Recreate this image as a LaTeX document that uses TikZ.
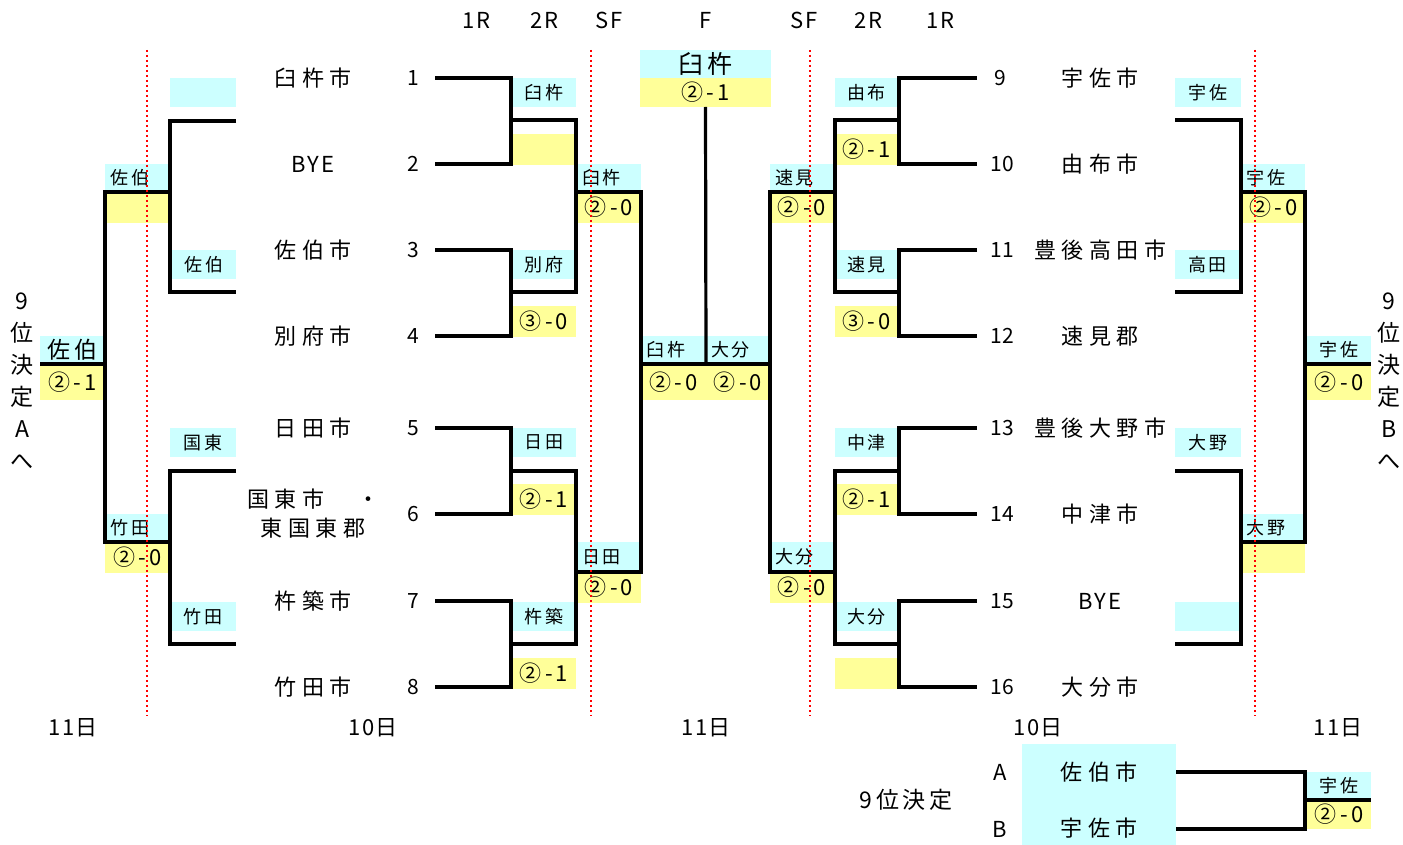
\documentclass[tikz,border=0pt]{standalone}
\usepackage{fontspec}
\setmainfont{Noto Sans CJK JP}
\newfontfamily\jpsp[LetterSpace=25]{Noto Sans CJK JP}
\newfontfamily\jpsm[LetterSpace=15]{Noto Sans CJK JP}
\newfontfamily\jpxs[LetterSpace=8]{Noto Sans CJK JP}
\definecolor{cyanc}{HTML}{CCFFFF}
\definecolor{yell}{HTML}{FFFF99}
\newcommand\mybox[7]{\node[#2, minimum width={(#5)-(#3)}, minimum height={(#6)-(#4)}] (#1) at ({((#3)+(#5))/2},{((#4)+(#6))/2}) {#7};}
\begin{document}
\begin{tikzpicture}[x=1pt,y=-1pt,
 bx/.style={inner sep=0pt, outer sep=0pt, draw=none},
 cy/.style={bx, fill=cyanc, font=\jpsm\fontsize{18}{20}\selectfont},
 ye/.style={bx, fill=yell, font=\jpsm\fontsize{22}{24}\selectfont},
 lft/.style={text width=54pt, align=left},
 big/.style={font=\jpsm\fontsize{23}{26}\selectfont},
 namef/.style={font=\jpsp\fontsize{22}{29}\selectfont, inner sep=0pt, align=center},
 byef/.style={font=\jpxs\fontsize{22}{26}\selectfont, inner sep=0pt},
 numf/.style={font=\fontsize{21}{24}\selectfont, inner sep=0pt},
 hdr/.style={font=\jpxs\fontsize{22}{24}\selectfont, inner sep=0pt},
 vert/.style={font=\fontsize{23}{32}\selectfont, inner sep=0pt, align=center},
 br/.style={line width=3.2pt},
 dot/.style={red, line width=2pt, dash pattern=on 2pt off 3pt}]
\useasboundingbox (0,0) rectangle (1403,845);
% headers
\node[hdr] (h1) at (476,20) {1R};
\node[hdr] (h2) at (544,20) {2R};
\node[hdr] (h3) at (609,20) {SF};
\node[hdr] (h4) at (706,20) {F};
\node[hdr] (h5) at (804,20) {SF};
\node[hdr] (h6) at (868,20) {2R};
\node[hdr] (h7) at (940,20) {1R};
% dates
\node[hdr] (d1) at (73,728) {11日};
\node[hdr] (d2) at (373,728) {10日};
\node[hdr] (d3) at (706,728) {11日};
\node[hdr] (d4) at (1038,728) {10日};
\node[hdr] (d5) at (1338,728) {11日};
% left names
\node[namef] (n1) at (313,78) {臼杵市};
\node[byef] (n2) at (313,164) {BYE};
\node[namef] (n3) at (313,250) {佐伯市};
\node[namef] (n4) at (313,336) {別府市};
\node[namef] (n5) at (313,428) {日田市};
\node[namef] (n6) at (313,514) {国東市　・\\東国東郡};
\node[namef] (n7) at (313,601) {杵築市};
\node[namef] (n8) at (313,687) {竹田市};
\foreach \i/\y in {1/78,2/164,3/250,4/336,5/428,6/514,7/601,8/687}
  \node[numf] (k\i) at (413,\y) {\i};
% right names
\node[namef] (n9) at (1100,78) {宇佐市};
\node[namef] (n10) at (1100,164) {由布市};
\node[namef] (n11) at (1100,250) {豊後高田市};
\node[namef] (n12) at (1100,336) {速見郡};
\node[namef] (n13) at (1100,428) {豊後大野市};
\node[namef] (n14) at (1100,514) {中津市};
\node[byef] (n15) at (1100,601) {BYE};
\node[namef] (n16) at (1100,687) {大分市};
\node[numf] (k9) at (1000,78) {9};
\foreach \i/\y in {10/164,11/250,12/336,13/428,14/514,15/601,16/687}
  \node[numf] (k\i) at (1002,\y) {\i};
% left inner 2R boxes
\mybox{a1}{cy}{512}{78}{576}{107}{臼杵}
\mybox{a2}{ye}{512}{134}{576}{165}{}
\mybox{a3}{cy}{512}{250}{576}{279}{別府}
\mybox{a4}{ye}{512}{306}{576}{337}{③-0}
\mybox{a5}{cy}{512}{428}{576}{457}{日田}
\mybox{a6}{ye}{512}{484}{576}{515}{②-1}
\mybox{a7}{cy}{512}{602}{576}{631}{杵築}
\mybox{a8}{ye}{512}{658}{576}{689}{②-1}
% left SF
\mybox{b1}{cy,lft}{577}{164}{641}{192}{臼杵}
\mybox{b2}{ye}{577}{192}{641}{223}{②-0}
\mybox{b3}{cy,lft}{577}{542}{641}{572}{日田}
\mybox{b4}{ye}{577}{572}{641}{603}{②-0}
% final
\mybox{f1}{cy,lft}{641}{336}{706}{364}{臼杵}
\mybox{f2}{cy,lft}{706}{336}{770}{364}{大分}
\mybox{f3}{ye}{641}{364}{706}{400}{②-0}
\mybox{f4}{ye}{706}{364}{770}{400}{②-0}
\mybox{ch}{cy,font=\jpsm\fontsize{25}{27}\selectfont}{640}{50}{771}{78}{臼杵}
\mybox{cs}{ye}{640}{78}{771}{107}{②-1}
% right SF
\mybox{c1}{cy,lft}{770}{164}{834}{192}{速見}
\mybox{c2}{ye}{770}{192}{834}{223}{②-0}
\mybox{c3}{cy,lft}{770}{542}{834}{572}{大分}
\mybox{c4}{ye}{770}{572}{834}{603}{②-0}
% right 2R
\mybox{e1}{cy}{835}{78}{898}{107}{由布}
\mybox{e2}{ye}{835}{134}{898}{165}{②-1}
\mybox{e3}{cy}{835}{250}{898}{279}{速見}
\mybox{e4}{ye}{835}{306}{898}{337}{③-0}
\mybox{e5}{cy}{835}{428}{898}{457}{中津}
\mybox{e6}{ye}{835}{484}{898}{515}{②-1}
\mybox{e7}{cy}{835}{602}{898}{631}{大分}
\mybox{e8}{ye}{835}{658}{898}{689}{}
% left outer
\mybox{l1}{cy}{170}{78}{236}{107}{}
\mybox{l2}{cy}{172}{250}{236}{279}{佐伯}
\mybox{l3}{cy}{170}{428}{236}{457}{国東}
\mybox{l4}{cy}{170}{602}{236}{631}{竹田}
\mybox{l5}{cy,lft}{105}{164}{170}{192}{佐伯}
\mybox{l6}{ye}{107}{192}{170}{223}{}
\mybox{l7}{cy,lft}{105}{514}{170}{542}{竹田}
\mybox{l8}{ye}{105}{542}{170}{573}{②-0}
\mybox{l9}{cy,big}{40}{336}{105}{364}{佐伯}
\mybox{l10}{ye}{40}{364}{105}{400}{②-1}
% right outer
\mybox{r1}{cy}{1175}{78}{1241}{107}{宇佐}
\mybox{r2}{cy}{1175}{250}{1240}{279}{高田}
\mybox{r3}{cy}{1175}{428}{1241}{457}{大野}
\mybox{r4}{cy}{1175}{602}{1240}{631}{}
\mybox{r5}{cy,lft}{1242}{164}{1305}{192}{宇佐}
\mybox{r6}{ye}{1242}{192}{1305}{223}{②-0}
\mybox{r7}{cy,lft}{1242}{514}{1305}{542}{大野}
\mybox{r8}{ye}{1242}{542}{1305}{573}{}
\mybox{r9}{cy}{1307}{336}{1371}{364}{宇佐}
\mybox{r10}{ye}{1307}{364}{1371}{400}{②-0}
% 9th place
\mybox{p0}{cy}{1022}{744}{1176}{845}{}
\node[namef] (pa) at (1099,772) {佐伯市};
\node[namef] (pb) at (1099,828) {宇佐市};
\node[byef] (pA) at (1000,772) {A};
\node[byef] (pB) at (1000,829) {B};
\node[font=\jpsm\fontsize{23}{26}\selectfont, inner sep=0pt] (pt) at (906,800) {9位決定};
\mybox{p1}{cy}{1307}{772}{1371}{800}{宇佐}
\mybox{p2}{ye}{1307}{800}{1371}{829}{②-0}
% vertical labels
\node[vert] (va) at (22,381) {9\\位\\決\\定\\A\\へ};
\node[vert] (vb) at (1389,381) {9\\位\\決\\定\\B\\へ};
% bracket lines
\begin{scope}[br]
\draw (435,78) -| (511,164) -- (435,164);
\draw (511,120) -| (576,292) -- (511,292);
\draw (435,250) -| (511,336) -- (435,336);
\draw (576,192) -| (641,572) -- (576,572);
\draw (435,428) -| (511,514) -- (435,514);
\draw (511,471) -| (576,644) -- (511,644);
\draw (435,601) -| (511,687) -- (435,687);
\draw (641,364) -- (770,364);
\draw (706,364) -- (cs.south);
\draw (977,78) -| (899,164) -- (977,164);
\draw (899,120) -| (835,292) -- (899,292);
\draw (977,250) -| (899,336) -- (977,336);
\draw (835,192) -| (770,572) -- (835,572);
\draw (977,428) -| (899,514) -- (977,514);
\draw (899,471) -| (835,644) -- (899,644);
\draw (977,601) -| (899,687) -- (977,687);
\draw (236,121) -| (170,292) -- (236,292);
\draw (170,192) -| (105,542) -- (170,542);
\draw (236,471) -| (170,644) -- (236,644);
\draw (105,364) -- (40,364);
\draw (1175,120) -| (1241,292) -- (1175,292);
\draw (1241,192) -| (1305,542) -- (1241,542);
\draw (1175,471) -| (1241,644) -- (1175,644);
\draw (1305,364) -- (1371,364);
\draw (1176,772) -| (1305,829) -- (1176,829);
\draw (1305,800) -- (1371,800);
\end{scope}
% red dotted
\foreach \x in {147,591,810,1255}
  \draw[dot] (\x,50) -- (\x,716);
\end{tikzpicture}
\end{document}
